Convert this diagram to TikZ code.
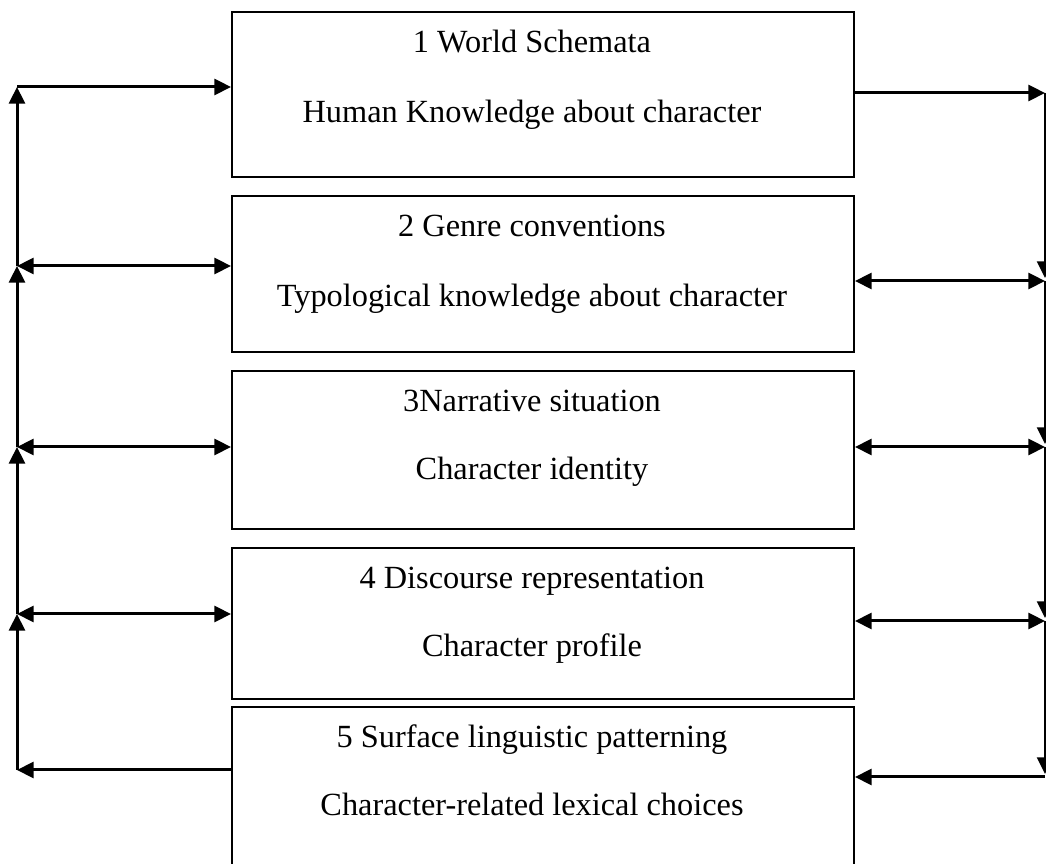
\documentclass[tikz,border=0pt]{standalone}
\usepackage{fontspec}
\setmainfont{Liberation Serif}
\usepackage{tikz}
\usetikzlibrary{arrows.meta,positioning,calc}

\tikzset{
  levelbox/.style={draw,line width=0.6pt,minimum width=186.6pt,inner sep=0pt},
  leveltext/.style={font=\fontsize{9.7}{11}\selectfont,inner sep=0pt,anchor=base},
  link/.style={line width=0.9pt}
}

\begin{document}
\begin{tikzpicture}[x=0.3pt,y=-0.3pt,>={Triangle[length=5pt,width=4.8pt]}]
\useasboundingbox (0,0) rectangle (1046,864);
% the five levels
\node[levelbox,minimum height=49.5pt] (b1) at (543,94.5) {};
\node[levelbox,minimum height=46.8pt] (b2) at (543,274) {};
\node[levelbox,minimum height=47.4pt] (b3) at (543,450) {};
\node[levelbox,minimum height=45.3pt] (b4) at (543,623.5) {};
\node[levelbox,minimum height=51pt] (b5) at (543,792) {};
\node[leveltext] (t1a) at (532,53) {1 World Schemata};
\node[leveltext] (t1b) at (532,123) {Human Knowledge about character};
\node[leveltext] (t2a) at (532,237) {2 Genre conventions};
\node[leveltext] (t2b) at (532,307) {Typological knowledge about character};
\node[leveltext] (t3a) at (532,412) {3Narrative situation};
\node[leveltext] (t3b) at (532,480) {Character identity};
\node[leveltext] (t4a) at (532,589) {4 Discourse representation};
\node[leveltext] (t4b) at (532,657) {Character profile};
\node[leveltext] (t5a) at (532,748) {5 Surface linguistic patterning};
\node[leveltext] (t5b) at (532,816) {Character-related lexical choices};
% left rail
\coordinate (l1) at (17,87);
\coordinate (l2) at (17,266);
\coordinate (l3) at (17,447);
\coordinate (l4) at (17,614);
\coordinate (l5) at (17,770);
\draw[link,->] (l5) -- (l4);
\draw[link,->] (l4) -- (l3);
\draw[link,->] (l3) -- (l2);
\draw[link,->] (l2) -- (l1);
\draw[link,->] (l1) -- (b1.west |- l1);
\draw[link,<->] (l2) -- (b2.west |- l2);
\draw[link,<->] (l3) -- (b3.west |- l3);
\draw[link,<->] (l4) -- (b4.west |- l4);
\draw[link,->] (b5.west |- l5) -- (l5);
% right rail
\coordinate (r1) at (1045,93);
\coordinate (r2) at (1045,281);
\coordinate (r3) at (1045,447);
\coordinate (r4) at (1045,621);
\coordinate (r5) at (1045,777);
\draw[link,->] (b1.east |- r1) -- (r1);
\draw[link,<->] (b2.east |- r2) -- (r2);
\draw[link,<->] (b3.east |- r3) -- (r3);
\draw[link,<->] (b4.east |- r4) -- (r4);
\draw[link,<-] (b5.east |- r5) -- (r5);
\draw[line width=0.6pt,->] (r1) -- ($(r2)+(0,-3)$);
\draw[line width=0.6pt,->] (r2) -- ($(r3)+(0,-3)$);
\draw[line width=0.6pt,->] (r3) -- ($(r4)+(0,-3)$);
\draw[line width=0.6pt,->] (r4) -- ($(r5)+(0,-3)$);
\end{tikzpicture}
\end{document}
